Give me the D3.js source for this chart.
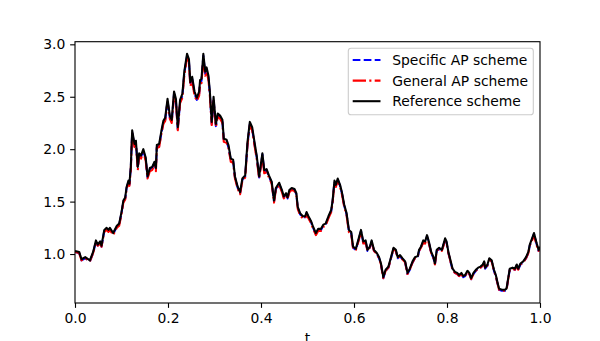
<!DOCTYPE html>
<html>
<head>
<meta charset="utf-8">
<script src="https://cdn.jsdelivr.net/npm/d3@7"></script>
<style>
  body { margin: 0; background: #fff; }
  svg { display: block; font-family: "DejaVu Sans", sans-serif; }
</style>
</head>
<body>
<div id="container"></div>
<script>
// Declare the chart dimensions and margins.
const width = 600;
const height = 341;
const marginTop = 41.7;
const marginRight = 60;
const marginBottom = 38;
const marginLeft = 75;

// time grid
const tValues = [
  0.000, 0.009, 0.014, 0.022, 0.032, 0.039, 0.045, 0.049, 0.054, 0.057,
  0.063, 0.068, 0.072, 0.075, 0.082, 0.090, 0.095, 0.100, 0.104, 0.108,
  0.111, 0.115, 0.117, 0.120, 0.123, 0.128, 0.131, 0.135, 0.138, 0.142,
  0.147, 0.152, 0.156, 0.161, 0.166, 0.171, 0.174, 0.176, 0.181, 0.186,
  0.190, 0.194, 0.199, 0.204, 0.208, 0.213, 0.217, 0.221, 0.226, 0.231,
  0.235, 0.241, 0.245, 0.248, 0.252, 0.257, 0.262, 0.267, 0.269, 0.272,
  0.276, 0.280, 0.283, 0.287, 0.290, 0.294, 0.298, 0.303, 0.307, 0.312,
  0.317, 0.320, 0.326, 0.330, 0.335, 0.340, 0.344, 0.350, 0.355, 0.360,
  0.366, 0.371, 0.376, 0.381, 0.387, 0.391, 0.396, 0.403, 0.407, 0.412,
  0.417, 0.423, 0.428, 0.432, 0.439, 0.445, 0.449, 0.454, 0.457, 0.461,
  0.466, 0.472, 0.476, 0.479, 0.484, 0.490, 0.495, 0.498, 0.502, 0.508,
  0.512, 0.518, 0.523, 0.529, 0.534, 0.539, 0.545, 0.551, 0.554, 0.558,
  0.561, 0.565, 0.570, 0.574, 0.579, 0.584, 0.589, 0.594, 0.598, 0.604,
  0.609, 0.615, 0.620, 0.625, 0.629, 0.634, 0.638, 0.643, 0.649, 0.654,
  0.658, 0.663, 0.668, 0.674, 0.679, 0.685, 0.690, 0.694, 0.699, 0.704,
  0.710, 0.715, 0.720, 0.726, 0.731, 0.737, 0.740, 0.744, 0.749, 0.753,
  0.757, 0.761, 0.766, 0.771, 0.774, 0.778, 0.783, 0.789, 0.796, 0.799,
  0.803, 0.808, 0.812, 0.817, 0.822, 0.826, 0.831, 0.835, 0.839, 0.844,
  0.848, 0.852, 0.857, 0.862, 0.867, 0.872, 0.877, 0.880, 0.882, 0.887,
  0.891, 0.896, 0.901, 0.905, 0.908, 0.912, 0.918, 0.925, 0.928, 0.932,
  0.935, 0.941, 0.946, 0.950, 0.953, 0.958, 0.964, 0.970, 0.975, 0.978,
  0.983, 0.987, 0.993, 0.997, 1.000
];

// Reference scheme (black solid)
const referenceValues = [
  1.03, 1.02, 0.95, 0.97, 0.94, 1.02, 1.13, 1.09, 1.12, 1.08,
  1.23, 1.25, 1.23, 1.25, 1.20, 1.27, 1.29, 1.40, 1.51, 1.54,
  1.64, 1.70, 1.67, 1.83, 2.18, 2.05, 2.08, 1.83, 1.96, 1.94,
  2.00, 1.92, 1.74, 1.82, 1.83, 1.88, 1.82, 2.04, 2.05, 2.18,
  2.27, 2.30, 2.48, 2.32, 2.28, 2.55, 2.48, 2.21, 2.47, 2.53,
  2.74, 2.91, 2.86, 2.64, 2.69, 2.55, 2.49, 2.55, 2.66, 2.67,
  2.91, 2.74, 2.78, 2.70, 2.55, 2.26, 2.50, 2.24, 2.34, 2.32,
  2.28, 2.10, 2.09, 2.04, 1.91, 1.90, 1.74, 1.64, 1.59, 1.72,
  1.75, 2.07, 2.26, 2.21, 2.04, 1.93, 1.74, 1.96, 1.80, 1.81,
  1.75, 1.69, 1.51, 1.63, 1.68, 1.61, 1.55, 1.58, 1.54, 1.61,
  1.63, 1.62, 1.58, 1.45, 1.39, 1.36, 1.36, 1.40, 1.36, 1.31,
  1.26, 1.20, 1.24, 1.24, 1.28, 1.29, 1.36, 1.42, 1.51, 1.70,
  1.66, 1.72, 1.66, 1.59, 1.47, 1.39, 1.23, 1.21, 1.07, 1.05,
  1.13, 1.23, 1.12, 1.13, 1.04, 1.07, 1.13, 1.04, 1.01, 0.97,
  0.91, 0.78, 0.85, 0.88, 0.96, 1.06, 1.04, 0.97, 0.99, 0.96,
  0.93, 0.82, 0.86, 0.93, 0.97, 0.98, 1.04, 1.07, 1.13, 1.12,
  1.18, 1.12, 1.02, 0.97, 0.91, 1.04, 1.06, 1.04, 1.15, 1.12,
  1.02, 0.93, 0.86, 0.83, 0.82, 0.80, 0.82, 0.79, 0.80, 0.84,
  0.82, 0.77, 0.82, 0.85, 0.87, 0.88, 0.90, 0.93, 0.87, 0.90,
  0.96, 0.94, 0.85, 0.80, 0.74, 0.67, 0.66, 0.66, 0.67, 0.78,
  0.86, 0.87, 0.86, 0.90, 0.86, 0.91, 0.93, 0.97, 1.02, 1.09,
  1.15, 1.20, 1.10, 1.04, 1.07
];

// Specific AP scheme (blue dashed)
const specificValues = [
  1.02, 1.01, 0.94, 0.96, 0.93, 1.01, 1.12, 1.08, 1.11, 1.07,
  1.22, 1.24, 1.22, 1.24, 1.19, 1.26, 1.28, 1.39, 1.50, 1.53,
  1.63, 1.69, 1.66, 1.82, 2.16, 2.03, 2.06, 1.82, 1.95, 1.93,
  1.98, 1.91, 1.73, 1.81, 1.82, 1.87, 1.81, 2.02, 2.03, 2.16,
  2.25, 2.28, 2.46, 2.30, 2.26, 2.53, 2.46, 2.19, 2.45, 2.51,
  2.72, 2.89, 2.84, 2.62, 2.67, 2.53, 2.47, 2.53, 2.64, 2.65,
  2.89, 2.72, 2.76, 2.68, 2.53, 2.24, 2.48, 2.22, 2.32, 2.30,
  2.26, 2.08, 2.07, 2.02, 1.90, 1.89, 1.73, 1.63, 1.58, 1.71,
  1.74, 2.05, 2.24, 2.19, 2.02, 1.92, 1.73, 1.95, 1.79, 1.80,
  1.74, 1.68, 1.50, 1.62, 1.67, 1.60, 1.54, 1.57, 1.53, 1.60,
  1.62, 1.61, 1.57, 1.44, 1.38, 1.35, 1.35, 1.39, 1.35, 1.30,
  1.25, 1.19, 1.23, 1.23, 1.27, 1.28, 1.35, 1.41, 1.50, 1.69,
  1.65, 1.71, 1.65, 1.58, 1.46, 1.38, 1.22, 1.20, 1.06, 1.04,
  1.12, 1.22, 1.11, 1.12, 1.03, 1.06, 1.12, 1.03, 1.00, 0.96,
  0.90, 0.77, 0.84, 0.87, 0.95, 1.05, 1.03, 0.96, 0.98, 0.95,
  0.92, 0.81, 0.85, 0.92, 0.96, 0.97, 1.03, 1.06, 1.12, 1.11,
  1.17, 1.11, 1.01, 0.96, 0.90, 1.03, 1.05, 1.03, 1.14, 1.11,
  1.01, 0.92, 0.85, 0.82, 0.81, 0.79, 0.81, 0.78, 0.79, 0.83,
  0.81, 0.76, 0.81, 0.84, 0.86, 0.87, 0.89, 0.92, 0.86, 0.89,
  0.95, 0.93, 0.84, 0.79, 0.73, 0.66, 0.65, 0.65, 0.66, 0.77,
  0.85, 0.86, 0.85, 0.89, 0.85, 0.90, 0.92, 0.96, 1.01, 1.08,
  1.14, 1.19, 1.09, 1.03, 1.06
];

// General AP scheme (red dash-dot)
const generalValues = [
  1.02, 1.01, 0.94, 0.96, 0.93, 1.01, 1.11, 1.08, 1.10, 1.07,
  1.21, 1.23, 1.21, 1.23, 1.18, 1.25, 1.27, 1.38, 1.49, 1.52,
  1.62, 1.68, 1.65, 1.80, 2.15, 2.02, 2.05, 1.80, 1.93, 1.91,
  1.97, 1.89, 1.72, 1.79, 1.80, 1.85, 1.79, 2.01, 2.02, 2.15,
  2.24, 2.27, 2.45, 2.29, 2.25, 2.51, 2.45, 2.18, 2.44, 2.49,
  2.70, 2.87, 2.82, 2.60, 2.65, 2.51, 2.46, 2.51, 2.62, 2.63,
  2.87, 2.70, 2.74, 2.66, 2.51, 2.23, 2.46, 2.21, 2.31, 2.29,
  2.25, 2.07, 2.06, 2.01, 1.88, 1.87, 1.72, 1.62, 1.57, 1.70,
  1.73, 2.04, 2.23, 2.18, 2.01, 1.90, 1.72, 1.93, 1.77, 1.78,
  1.73, 1.67, 1.49, 1.61, 1.66, 1.59, 1.53, 1.56, 1.52, 1.59,
  1.61, 1.60, 1.56, 1.43, 1.37, 1.34, 1.34, 1.38, 1.34, 1.29,
  1.24, 1.18, 1.22, 1.22, 1.26, 1.27, 1.34, 1.40, 1.49, 1.68,
  1.64, 1.70, 1.64, 1.57, 1.45, 1.37, 1.21, 1.19, 1.05, 1.04,
  1.11, 1.21, 1.10, 1.11, 1.03, 1.06, 1.11, 1.03, 1.00, 0.96,
  0.90, 0.77, 0.84, 0.87, 0.95, 1.05, 1.03, 0.96, 0.98, 0.95,
  0.92, 0.81, 0.85, 0.92, 0.96, 0.97, 1.03, 1.06, 1.11, 1.10,
  1.16, 1.10, 1.01, 0.96, 0.90, 1.03, 1.05, 1.03, 1.13, 1.10,
  1.01, 0.92, 0.85, 0.82, 0.81, 0.79, 0.81, 0.78, 0.79, 0.83,
  0.81, 0.76, 0.81, 0.84, 0.86, 0.87, 0.89, 0.92, 0.86, 0.89,
  0.95, 0.93, 0.84, 0.79, 0.73, 0.66, 0.65, 0.65, 0.66, 0.77,
  0.85, 0.86, 0.85, 0.89, 0.85, 0.90, 0.92, 0.96, 1.01, 1.08,
  1.13, 1.18, 1.08, 1.03, 1.06
];

const xTicks = [0.0, 0.2, 0.4, 0.6, 0.8, 1.0];
const yTicks = [1.0, 1.5, 2.0, 2.5, 3.0];

const seriesNames = ["Specific AP scheme", "General AP scheme", "Reference scheme"];
const seriesColors = ["#0000ff", "#ff0000", "#000000"];
const seriesDash = ["7.7,3.3", "13.3,3.3,2.1,3.3", null];
const seriesValues = [specificValues, generalValues, referenceValues];

// scales
const x = d3.scaleLinear()
    .domain([0, 1])
    .range([marginLeft, width - marginRight]);

const y = d3.scaleLinear()
    .domain([0.533, 3.025])
    .range([height - marginBottom, marginTop]);

const line = d3.line()
    .x(d => x(d[0]))
    .y(d => y(d[1]));

const svg = d3.select("#container").append("svg")
    .attr("width", width)
    .attr("height", height)
    .attr("viewBox", [0, 0, width, height]);

svg.append("rect")
    .attr("width", width)
    .attr("height", height)
    .attr("fill", "#fff");

svg.append("clipPath")
    .attr("id", "plot-clip")
  .append("rect")
    .attr("x", marginLeft)
    .attr("y", marginTop)
    .attr("width", width - marginLeft - marginRight)
    .attr("height", height - marginTop - marginBottom);

// Draw the three series
const plot = svg.append("g").attr("clip-path", "url(#plot-clip)");
seriesValues.forEach((vals, i) => {
    const pts = tValues.map((t, k) => [t, vals[k]]);
    plot.append("path")
        .datum(pts)
        .attr("fill", "none")
        .attr("stroke", seriesColors[i])
        .attr("stroke-width", 2.08)
        .attr("stroke-linejoin", "round")
        .attr("stroke-dasharray", seriesDash[i])
        .attr("d", line);
});

// Axes
const tickLen = 4.86;
svg.append("g")
    .attr("transform", `translate(0,${height - marginBottom})`)
    .call(d3.axisBottom(x).tickValues(xTicks).tickFormat(d3.format(".1f"))
        .tickSize(tickLen).tickPadding(4.86))
    .call(g => g.select(".domain").remove())
    .call(g => g.selectAll(".tick line").attr("stroke-width", 1.11))
    .call(g => g.selectAll(".tick text")
        .attr("font-size", "13.9px")
        .attr("font-family", "DejaVu Sans")
        .attr("fill", "#000"));

svg.append("g")
    .attr("transform", `translate(${marginLeft},0)`)
    .call(d3.axisLeft(y).tickValues(yTicks).tickFormat(d3.format(".1f"))
        .tickSize(tickLen).tickPadding(4.86))
    .call(g => g.select(".domain").remove())
    .call(g => g.selectAll(".tick line").attr("stroke-width", 1.11))
    .call(g => g.selectAll(".tick text")
        .attr("font-size", "13.9px")
        .attr("font-family", "DejaVu Sans")
        .attr("fill", "#000"));

// Frame
svg.append("rect")
    .attr("x", marginLeft)
    .attr("y", marginTop)
    .attr("width", width - marginLeft - marginRight)
    .attr("height", height - marginTop - marginBottom)
    .attr("fill", "none")
    .attr("stroke", "#000")
    .attr("stroke-width", 1.11);

// x label
svg.append("text")
    .attr("x", (x(0) + x(1)) / 2)
    .attr("y", 343)
    .attr("text-anchor", "middle")
    .attr("font-size", "13.9px")
    .text("t");

// Legend
const legend = svg.append("g");
legend.append("rect")
    .attr("x", 348.3)
    .attr("y", 48.3)
    .attr("width", 185)
    .attr("height", 66.5)
    .attr("rx", 2.8)
    .attr("fill", "#fff")
    .attr("fill-opacity", 0.8)
    .attr("stroke", "#cccccc")
    .attr("stroke-width", 1.11);

seriesNames.forEach((name, i) => {
    const row = legend.append("g")
        .attr("transform", `translate(352.7,${60 + i * 20.6})`);
    row.append("line")
        .attr("x1", 0)
        .attr("x2", 27.8)
        .attr("stroke", seriesColors[i])
        .attr("stroke-width", 2.08)
        .attr("stroke-dasharray", seriesDash[i]);
    row.append("text")
        .attr("x", 39.5)
        .attr("y", 0)
        .attr("dy", "0.36em")
        .attr("font-size", "13.9px")
        .attr("fill", "#000")
        .text(name);
});
</script>
</body>
</html>
